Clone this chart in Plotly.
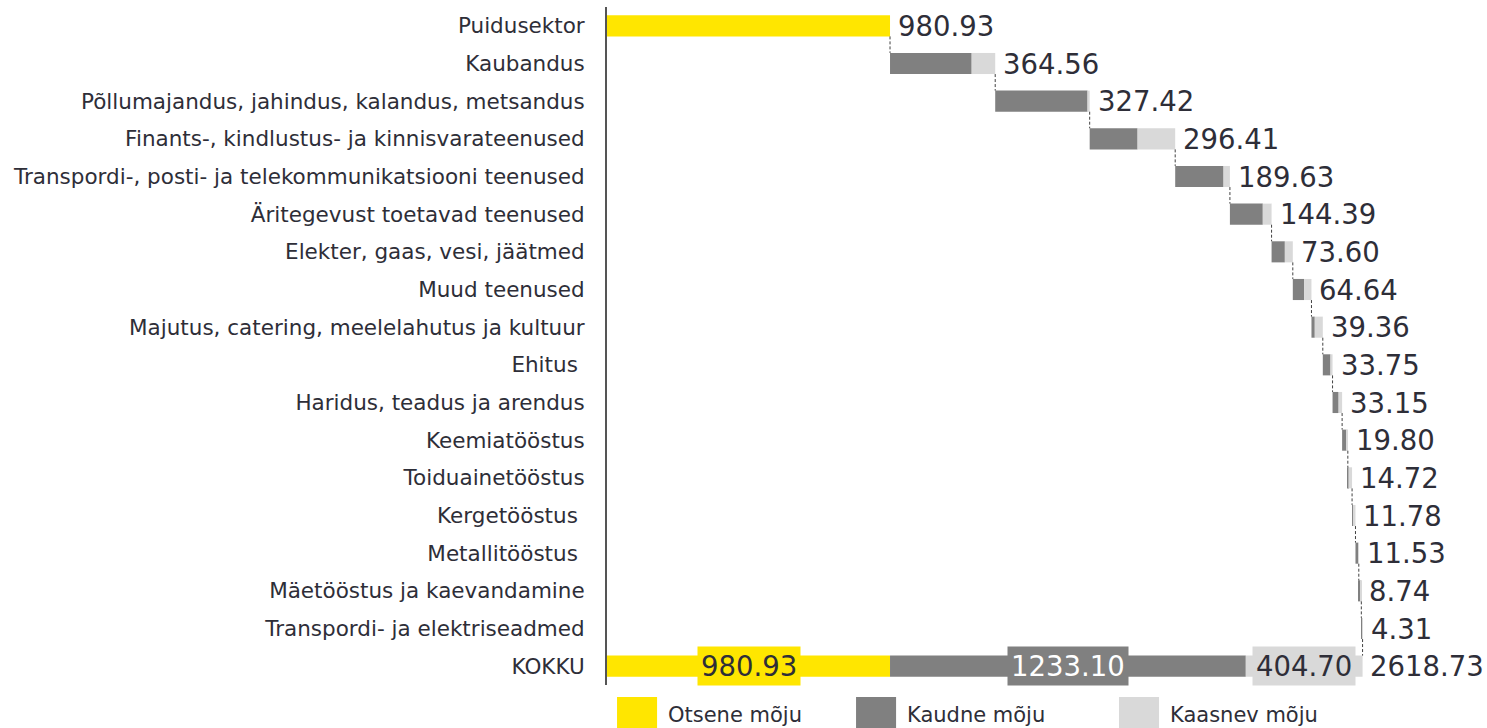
import plotly.graph_objects as go

categories = [
    "Puidusektor",
    "Kaubandus",
    "Põllumajandus, jahindus, kalandus, metsandus",
    "Finants-, kindlustus- ja kinnisvarateenused",
    "Transpordi-, posti- ja telekommunikatsiooni teenused",
    "Äritegevust toetavad teenused",
    "Elekter, gaas, vesi, jäätmed",
    "Muud teenused",
    "Majutus, catering, meelelahutus ja kultuur",
    "Ehitus\u00a0",
    "Haridus, teadus ja arendus",
    "Keemiatööstus",
    "Toiduainetööstus",
    "Kergetööstus\u00a0",
    "Metallitööstus\u00a0",
    "Mäetööstus ja kaevandamine",
    "Transpordi- ja elektriseadmed",
    "KOKKU",
]

# Direct effect (Puidusektor only)
otsene = 980.93
# Indirect (dark) and induced (light) effects for sectors 2..17
kaudne = [283.0, 320.0, 166.0, 167.5, 114.0, 46.0, 39.0, 11.5, 26.6, 21.0,
          15.0, 2.0, 3.0, 9.0, 6.0, 3.5]
kaasnev = [81.56, 7.42, 130.41, 22.13, 30.39, 27.60, 25.64, 27.86, 7.15, 12.15,
           4.80, 12.72, 8.78, 2.53, 2.74, 0.81]
# Totals row
kokku_otsene = 980.93
kokku_kaudne = 1233.10
kokku_kaasnev = 404.70
kokku_total = 2618.73

YELLOW = "#FFE600"
DARK = "#808080"
LIGHT = "#D9D9D9"
TXT = "#2E2E38"
FONT = "DejaVu Sans"
BW = 0.56

n = len(categories)
last = n - 1

starts = []
ends = []
cur = otsene
for d, l in zip(kaudne, kaasnev):
    starts.append(cur)
    cur = cur + d + l
    ends.append(cur)

rows = list(range(1, 1 + len(kaudne)))

fig = go.Figure()
fig.add_trace(go.Bar(y=[0, last], x=[otsene, kokku_otsene], base=[0, 0], orientation="h",
                     marker=dict(color=YELLOW, line=dict(width=0)), width=BW, showlegend=False,
                     hoverinfo="skip"))
fig.add_trace(go.Bar(y=rows + [last], x=kaudne + [kokku_kaudne],
                     base=starts + [kokku_otsene], orientation="h",
                     marker=dict(color=DARK, line=dict(width=0)), width=BW, showlegend=False,
                     hoverinfo="skip"))
fig.add_trace(go.Bar(y=rows + [last], x=kaasnev + [kokku_kaasnev],
                     base=[s + d for s, d in zip(starts, kaudne)] + [kokku_otsene + kokku_kaudne],
                     orientation="h",
                     marker=dict(color=LIGHT, line=dict(width=0)), width=BW, showlegend=False,
                     hoverinfo="skip"))

row_ends = [otsene] + ends
cx, cy = [], []
for i, e in enumerate(row_ends):
    cx += [e, e, None]
    cy += [i + BW / 2, i + 1 - BW / 2, None]
fig.add_trace(go.Scatter(x=cx, y=cy, mode="lines", line=dict(color="#404040", width=1, dash="3px,2px"),
                         showlegend=False, hoverinfo="skip"))

VS = 27.5
ann = []
row_vals = [otsene] + [d + l for d, l in zip(kaudne, kaasnev)]
for i, (e, v) in enumerate(zip(row_ends, row_vals)):
    ann.append(dict(x=e, y=i, text=f"{v:.2f}", xanchor="left", yanchor="middle", showarrow=False,
                    xshift=6, font=dict(family=FONT, size=VS, color=TXT)))
ann.append(dict(x=kokku_total, y=last, text=f"{kokku_total:.2f}", xanchor="left", yanchor="middle",
                showarrow=False, xshift=5, font=dict(family=FONT, size=VS, color=TXT)))
ann.append(dict(x=kokku_otsene / 2, y=last, text=f"{kokku_otsene:.2f}", showarrow=False,
                bgcolor=YELLOW, borderpad=3, font=dict(family=FONT, size=VS, color=TXT)))
ann.append(dict(x=kokku_otsene + kokku_kaudne / 2, y=last, text=f"{kokku_kaudne:.2f}", showarrow=False,
                bgcolor=DARK, borderpad=3, font=dict(family=FONT, size=VS, color="white")))
ann.append(dict(x=kokku_otsene + kokku_kaudne + kokku_kaasnev / 2, y=last, text=f"{kokku_kaasnev:.2f}",
                showarrow=False, bgcolor=LIGHT, borderpad=3, font=dict(family=FONT, size=VS, color=TXT)))

legend_items = [("Otsene mõju", YELLOW, 0.0114), ("Kaudne mõju", DARK, 0.283), ("Kaasnev mõju", LIGHT, 0.5818)]
shapes = []
for name, col, x0 in legend_items:
    shapes.append(dict(type="rect", xref="paper", yref="paper", x0=x0, x1=x0 + 0.0455,
                       y0=-0.07, y1=-0.0177, fillcolor=col, line=dict(width=0)))
    ann.append(dict(xref="paper", yref="paper", x=x0 + 0.0555, y=-0.0442, text=name, xanchor="left",
                    yanchor="middle", showarrow=False, font=dict(family=FONT, size=21, color=TXT)))

fig.update_layout(
    width=1487, height=728,
    margin=dict(l=607, r=0, t=7, b=43),
    plot_bgcolor="white", paper_bgcolor="white",
    barmode="overlay",
    xaxis=dict(range=[0, 3050], visible=False, showgrid=False, zeroline=False),
    yaxis=dict(range=[17.5, -0.5], tickvals=list(range(n)), ticktext=categories,
               showline=True, linecolor="#555555", linewidth=2, showgrid=False, zeroline=False,
               ticks="outside", ticklen=16, tickcolor="rgba(0,0,0,0)",
               tickfont=dict(family=FONT, size=21.5, color=TXT)),
    annotations=ann, shapes=shapes,
    font=dict(family=FONT, color=TXT),
)
fig.write_html("out.html", config={"displayModeBar": False},
               post_script="document.body.style.margin='0';document.body.style.overflow='hidden';")
